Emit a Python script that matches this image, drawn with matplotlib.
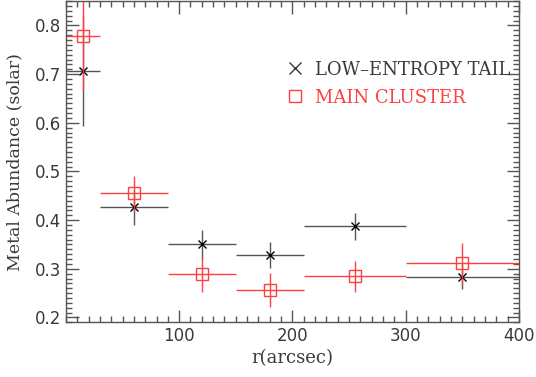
import numpy as np
import matplotlib
matplotlib.use('Agg')
import matplotlib.pyplot as plt
from matplotlib.lines import Line2D

# radial bins (arcsec)
bin_lo = [0, 30, 90, 150, 210, 300]
bin_hi = [30, 90, 150, 210, 300, 400]
r_tail = [15, 60, 120, 180, 255, 350]
r_main = [15, 60, 120, 180, 255, 350]

# metal abundance (solar)
z_tail = [0.706, 0.426, 0.350, 0.328, 0.387, 0.284]
z_tail_err = [0.113, 0.036, 0.030, 0.027, 0.028, 0.025]
z_main = [0.778, 0.455, 0.289, 0.257, 0.285, 0.311]
z_main_err = [0.110, 0.036, 0.036, 0.035, 0.032, 0.042]

red = '#ff4040'
gray = '#555555'
txt = '#3a3a3a'

plt.rcParams['font.family'] = ['DejaVu Serif']

fig = plt.figure(figsize=(5.36, 3.77), dpi=100)
ax = fig.add_axes([0.123, 0.145, 0.845, 0.852])

def xerrs(r):
    lo = [ri - b for ri, b in zip(r, bin_lo)]
    hi = [b - ri for ri, b in zip(r, bin_hi)]
    return [lo, hi]

ax.errorbar(r_tail, z_tail, xerr=xerrs(r_tail), yerr=z_tail_err, fmt='none',
            ecolor=gray, elinewidth=1.0, capsize=0)
ax.plot(r_tail, z_tail, 'x', color='black', ms=5.5, mew=1.0, ls='none')

ax.errorbar(r_main, z_main, xerr=xerrs(r_main), yerr=z_main_err, fmt='none',
            ecolor=red, elinewidth=1.0, capsize=0)
ax.plot(r_main, z_main, 's', mfc='none', mec=red, ms=8.5, mew=1.0, ls='none')

ax.set_xlim(0, 400)
ax.set_ylim(0.19, 0.85)
ax.set_xticks([100, 200, 300, 400])
ax.set_xticks(np.arange(0, 401, 10), minor=True)
ax.set_yticks([0.2, 0.3, 0.4, 0.5, 0.6, 0.7, 0.8])
ax.set_yticks(np.arange(0.19, 0.851, 0.01), minor=True)
ax.tick_params(which='both', direction='in', top=True, right=True,
               colors=gray, labelcolor=txt, labelsize=12)
ax.tick_params(which='major', length=9, width=1)
ax.tick_params(which='minor', length=4.5, width=1)
for lab in ax.get_xticklabels() + ax.get_yticklabels():
    lab.set_family('DejaVu Sans')
for s in ax.spines.values():
    s.set_color(gray)
    s.set_linewidth(1)

ax.set_xlabel('r(arcsec)', fontsize=13, color=txt, labelpad=3)
ax.set_ylabel('Metal Abundance (solar)', fontsize=12.5, color=txt, labelpad=8)

handles = [Line2D([], [], marker='x', color=txt, ls='none', ms=8.5, mew=1.0),
           Line2D([], [], marker='s', mfc='none', mec=red, ls='none', ms=8.5, mew=1.0)]
leg = ax.legend(handles, ['LOW\u2013ENTROPY TAIL', 'MAIN CLUSTER'],
                loc='upper left', bbox_to_anchor=(0.445, 0.865), frameon=False,
                fontsize=13, handletextpad=0.55, labelspacing=0.55, handlelength=1.2)
leg.get_texts()[0].set_color(txt)
leg.get_texts()[1].set_color(red)

fig.savefig('out.png', dpi=100)
